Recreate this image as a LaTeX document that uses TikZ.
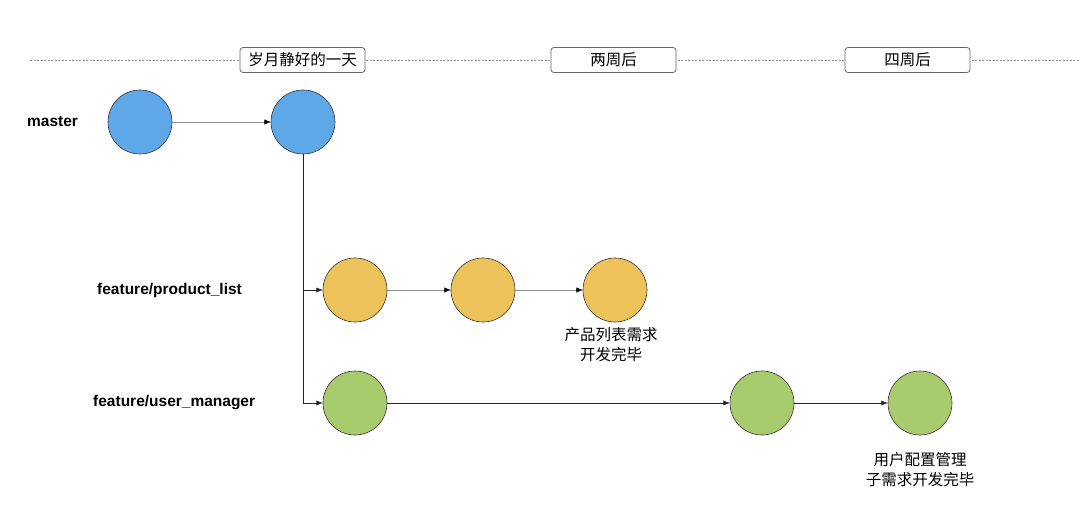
\documentclass[tikz,border=0pt]{standalone}
\usepackage{fontspec}
\setmainfont{Liberation Sans}
\newfontfamily\cjk{Noto Sans CJK SC}
\usetikzlibrary{arrows.meta, positioning}
\definecolor{masterblue}{HTML}{5FA8E8}
\definecolor{productorange}{HTML}{EEC25A}
\definecolor{usergreen}{HTML}{A8CB6D}
\definecolor{linegray}{HTML}{8C8C8C}

\begin{document}
\begin{tikzpicture}[
    x=1pt, y=-1pt,
    commit/.style={circle, draw=black!80, semithick, minimum size=64pt, inner sep=0pt},
    phase/.style={rectangle, rounded corners=3pt, draw=black!60, thick, fill=white, minimum width=125pt, minimum height=25pt, font=\cjk\fontsize{15.5}{17}\selectfont},
    branch/.style={anchor=west, inner sep=0pt, font=\bfseries\fontsize{15.5}{17}\selectfont},
    note/.style={align=center, font=\cjk\fontsize{15.5}{20}\selectfont},
    arrow/.style={-{Latex[length=2.2mm, width=1.8mm, color=black]}, draw=linegray},
    trunk/.style={-{Latex[length=2.2mm, width=1.8mm]}, draw=black!85, semithick}
]
\useasboundingbox (0,0) rectangle (1080,524);
% timeline
\draw[linegray, dash pattern=on 2pt off 1.5pt] (30,60) -- (1080,60);
\node[phase] (t0) at (302.5,60) {岁月静好的一天};
\node[phase] (t1) at (613.5,60) {两周后};
\node[phase] (t2) at (907.5,60) {四周后};
% branch names
\node[branch] (lm) at (27,122) {master};
\node[branch] (lp) at (97,290) {feature/product\_list};
\node[branch] (lu) at (93,403) {feature/user\_manager};
% commits
\node[commit, fill=masterblue] (m1) at (140,122) {};
\node[commit, fill=masterblue] (m2) at (303,122) {};
\node[commit, fill=productorange] (p1) at (355,290) {};
\node[commit, fill=productorange] (p2) at (483,290) {};
\node[commit, fill=productorange] (p3) at (615,290) {};
\node[commit, fill=usergreen] (u1) at (355,403) {};
\node[commit, fill=usergreen] (u2) at (762,403) {};
\node[commit, fill=usergreen] (u3) at (920,403) {};
% notes
\node[note, below=2pt of p3, xshift=-4pt] (np) {产品列表需求\\开发完毕};
\node[note, below=14pt of u3] (nu) {用户配置管理\\子需求开发完毕};
% edges
\draw[arrow] (m1) -- (m2);
\draw[trunk] (m2.south) |- (p1.west);
\draw[trunk] (m2.south) |- (u1.west);
\draw[arrow] (p1) -- (p2);
\draw[arrow] (p2) -- (p3);
\draw[trunk] (u1) -- (u2);
\draw[trunk] (u2) -- (u3);
\end{tikzpicture}
\end{document}
